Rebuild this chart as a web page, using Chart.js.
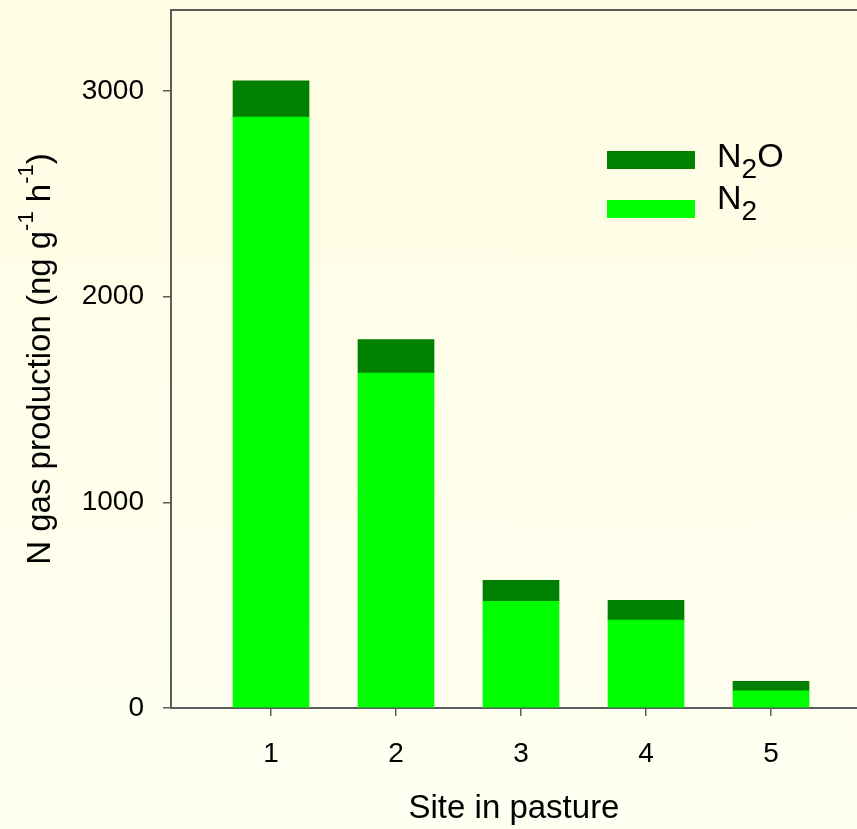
<!DOCTYPE html>
<html>
<head>
<meta charset="utf-8">
<title>N gas production</title>
<script src="https://cdn.jsdelivr.net/npm/chart.js@4.4.1/dist/chart.umd.min.js"></script>
<style>
  html, body { margin: 0; padding: 0; }
  body { width: 857px; height: 829px; background: linear-gradient(#FFFDE2, #FFFFF2); }
  canvas { display: block; }
</style>
</head>
<body>
<canvas id="myChart" width="857" height="829"></canvas>
<script>
'use strict';
// data
const sites = [1, 2, 3, 4, 5];
const n2Values = [2873, 1628, 519, 427, 83];
const n2oValues = [176, 164, 102, 97, 47];
const yTicks = [0, 1000, 2000, 3000];
const seriesNames = ['N₂O', 'N₂'];
const yTitle = 'N gas production (ng g⁻¹ h⁻¹)';
const xTitle = 'Site in pasture';

const fontFamily = 'Arial, "Liberation Sans", sans-serif';
const axisColor = '#5c5c5c';
const n2Color = '#00FF00';
const n2oColor = '#008000';

// splits text so ₂ becomes a subscript and ⁻¹ a superscript
function richParts( text ) {
  let parts = [];
  for ( let ch of text ) {
    let kind = 'n';
    let c = ch;
    if ( ch === '₂' ) { kind = 'sub'; c = '2'; }
    if ( ch === '⁻' ) { kind = 'sup'; c = '-'; }
    if ( ch === '¹' ) { kind = 'sup'; c = '1'; }
    let last = parts[parts.length - 1];
    if ( last && last.kind === kind ) {
      last.t += c;
    } else {
      parts.push( { t: c, kind: kind } );
    }
  }
  return parts;
}

function drawRich( ctx, text, x, y, size, smallSize, shift, align ) {
  let parts = richParts( text );
  let total = 0;
  for ( let i = 0; i < parts.length; i++ ) {
    ctx.font = ( parts[i].kind === 'n' ? size : smallSize ) + 'px ' + fontFamily;
    parts[i].w = ctx.measureText( parts[i].t ).width;
    total += parts[i].w;
  }
  let cx = align === 'center' ? x - total / 2 : x;
  ctx.textAlign = 'left';
  ctx.textBaseline = 'alphabetic';
  for ( let i = 0; i < parts.length; i++ ) {
    let p = parts[i];
    let dy = 0;
    if ( p.kind === 'sub' ) dy = shift;
    if ( p.kind === 'sup' ) dy = -shift;
    ctx.font = ( p.kind === 'n' ? size : smallSize ) + 'px ' + fontFamily;
    ctx.fillText( p.t, cx, y + dy );
    cx += p.w;
  }
}

const decorPlugin = {
  id: 'decor',
  afterDraw( chart ) {
    const ctx = chart.ctx;
    const area = chart.chartArea;
    ctx.save();
    // top frame line
    ctx.strokeStyle = axisColor;
    ctx.lineWidth = 2;
    ctx.beginPath();
    ctx.moveTo( area.left - 1, area.top );
    ctx.lineTo( area.right, area.top );
    ctx.stroke();

    // rotated y title
    ctx.fillStyle = '#000';
    ctx.save();
    ctx.translate( 50, ( area.top + area.bottom ) / 2 );
    ctx.rotate( -Math.PI / 2 );
    drawRich( ctx, yTitle, 0, 0, 33, 22, 17, 'center' );
    ctx.restore();

    // legend, dark series first
    const colors = [n2oColor, n2Color];
    const swatchTops = [151, 200];
    const baselines = [167, 209];
    for ( let i = 0; i < seriesNames.length; i++ ) {
      ctx.fillStyle = colors[i];
      ctx.fillRect( 607, swatchTops[i], 88, 18 );
      ctx.fillStyle = '#000';
      drawRich( ctx, seriesNames[i], 717, baselines[i], 34, 28, 11, 'left' );
    }
    ctx.restore();
  }
};

const ctx = document.getElementById( 'myChart' ).getContext( '2d' );
const myChart = new Chart( ctx, {
  type: 'bar',
  data: {
    datasets: [
      {
        label: seriesNames[1],
        data: sites.map( ( s, i ) => ( { x: s, y: n2Values[i] } ) ),
        backgroundColor: n2Color,
        borderWidth: 0,
        barThickness: 76
      },
      {
        label: seriesNames[0],
        data: sites.map( ( s, i ) => ( { x: s, y: n2oValues[i] } ) ),
        backgroundColor: n2oColor,
        borderWidth: 0,
        barThickness: 76
      }
    ]
  },
  options: {
    responsive: false,
    animation: false,
    devicePixelRatio: 1,
    layout: { padding: { top: 10, left: 0, right: 0, bottom: 0 } },
    plugins: {
      legend: { display: false },
      tooltip: { enabled: false }
    },
    scales: {
      x: {
        type: 'linear',
        min: 0.2,
        max: 5.688,
        stacked: true,
        offset: false,
        afterBuildTicks: ( scale ) => { scale.ticks = sites.map( v => ( { value: v } ) ); },
        afterFit: ( scale ) => { scale.height = 121; scale.paddingLeft = 0; scale.paddingRight = 0; },
        grid: { offset: false, drawOnChartArea: false, tickLength: 8, color: axisColor, lineWidth: 1.5 },
        border: { display: true, color: axisColor, width: 2 },
        ticks: {
          color: '#000', font: { family: fontFamily, size: 28 }, padding: 21, maxRotation: 0, autoSkip: false,
          callback: ( v ) => String( v )
        },
        title: { display: true, text: xTitle, color: '#000', font: { family: fontFamily, size: 33 }, padding: { top: 0, bottom: 0 } }
      },
      y: {
        min: 0,
        max: 3394,
        stacked: true,
        afterBuildTicks: ( scale ) => { scale.ticks = yTicks.map( v => ( { value: v } ) ); },
        afterFit: ( scale ) => { scale.width = 171; scale.paddingTop = 0; scale.paddingBottom = 0; },
        grid: { drawOnChartArea: false, tickLength: 8, color: axisColor, lineWidth: 1.5 },
        border: { display: true, color: axisColor, width: 2 },
        ticks: {
          color: '#000', font: { family: fontFamily, size: 28 }, padding: 19,
          callback: ( v ) => String( v )
        }
      }
    }
  },
  plugins: [decorPlugin]
} );
</script>
</body>
</html>
